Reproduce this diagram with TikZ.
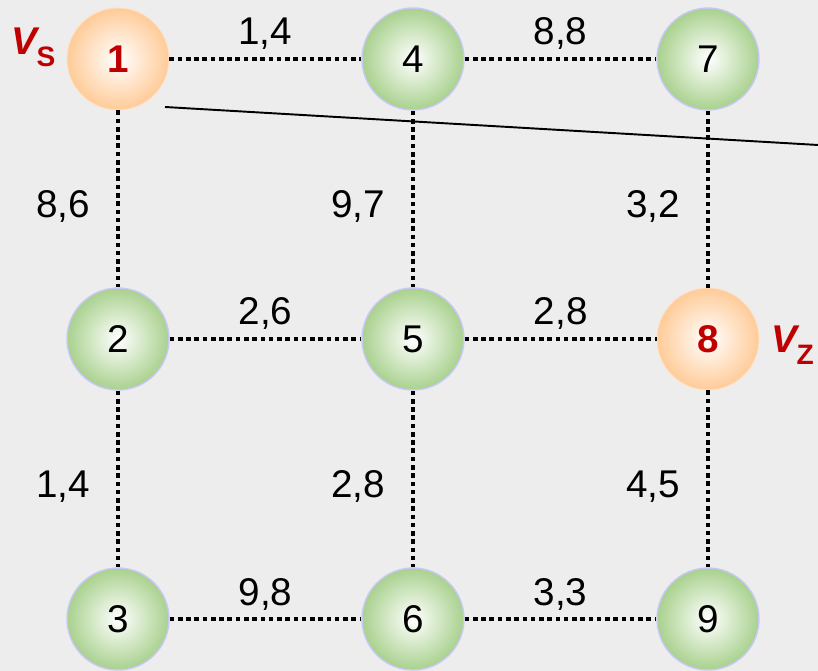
\documentclass[tikz,border=0pt]{standalone}
\usepackage{fontspec}
\setmainfont{Liberation Sans}
\usepackage{color}

\definecolor{bggray}{HTML}{EDEDED}
\definecolor{leafgreen}{HTML}{A9D18E}
\definecolor{peach}{HTML}{FFCB98}
\definecolor{rimblue}{HTML}{C8C8F8}
\definecolor{markred}{HTML}{C00000}

\tikzset{
    vert/.style={circle, minimum size=2.04cm, inner sep=0pt, font=\fontsize{22}{26}\selectfont},
    plain/.style={vert, draw=rimblue, line width=0.8pt, inner color=white, outer color=leafgreen},
    term/.style={vert, draw=peach!60!white, line width=0.5pt, inner color=white, outer color=peach,
        text=markred, font=\fontsize{22}{26}\selectfont\bfseries},
    link/.style={line width=2.7pt, dash pattern=on 2.6pt off 2.1pt},
    weight/.style={inner sep=0pt, anchor=base, font=\fontsize{22}{26}\selectfont},
    tag/.style={inner sep=0pt, anchor=base west, text=markred, font=\fontsize{22}{26}\selectfont\bfseries}
}

\begin{document}
\begin{tikzpicture}[x=0.02cm, y=-0.02cm]
    \fill[bggray] (0,0) rectangle (818,671);
    \useasboundingbox (0,0) rectangle (818,671);

    \foreach \n/\x/\y in {2/118/339, 3/118/619, 4/413/59, 5/413/339, 6/413/619, 7/708/59, 9/708/619} {
      \node[plain] (v\n) at (\x,\y) {\n};
    }
    \foreach \n/\x/\y in {1/118/59, 8/708/339} {
      \node[term] (v\n) at (\x,\y) {\n};
    }

    \node[tag] (vs) at (11,55) {\textit{V}\kern-0.08em\raisebox{-0.3em}{\fontsize{16}{18}\selectfont S}};
    \node[tag] (vz) at (771,353) {\textit{V}\kern-0.08em\raisebox{-0.3em}{\fontsize{16}{18}\selectfont Z}};

    % horizontal edges
    \foreach \a/\b/\p/\q in {1/4/1/4, 4/7/8/8, 2/5/2/6, 5/8/2/8, 3/6/9/8, 6/9/3/3} {
      \draw[link] (v\a) -- node[weight, yshift=0.28cm] {\p,\q} (v\b);
    }

    % vertical edges
    \foreach \a/\b/\p/\q in {1/2/8/6, 4/5/9/7, 7/8/3/2, 2/3/1/4, 5/6/2/8, 8/9/4/5} {
      \draw[link] (v\a) -- node[weight, xshift=-1.1cm, yshift=-0.37cm] {\p,\q} (v\b);
    }

    \coordinate (cutA) at (165,107);
    \coordinate (cutB) at (818,145);
    \draw[line width=1.1pt] (cutA) -- (cutB);
\end{tikzpicture}
\end{document}
